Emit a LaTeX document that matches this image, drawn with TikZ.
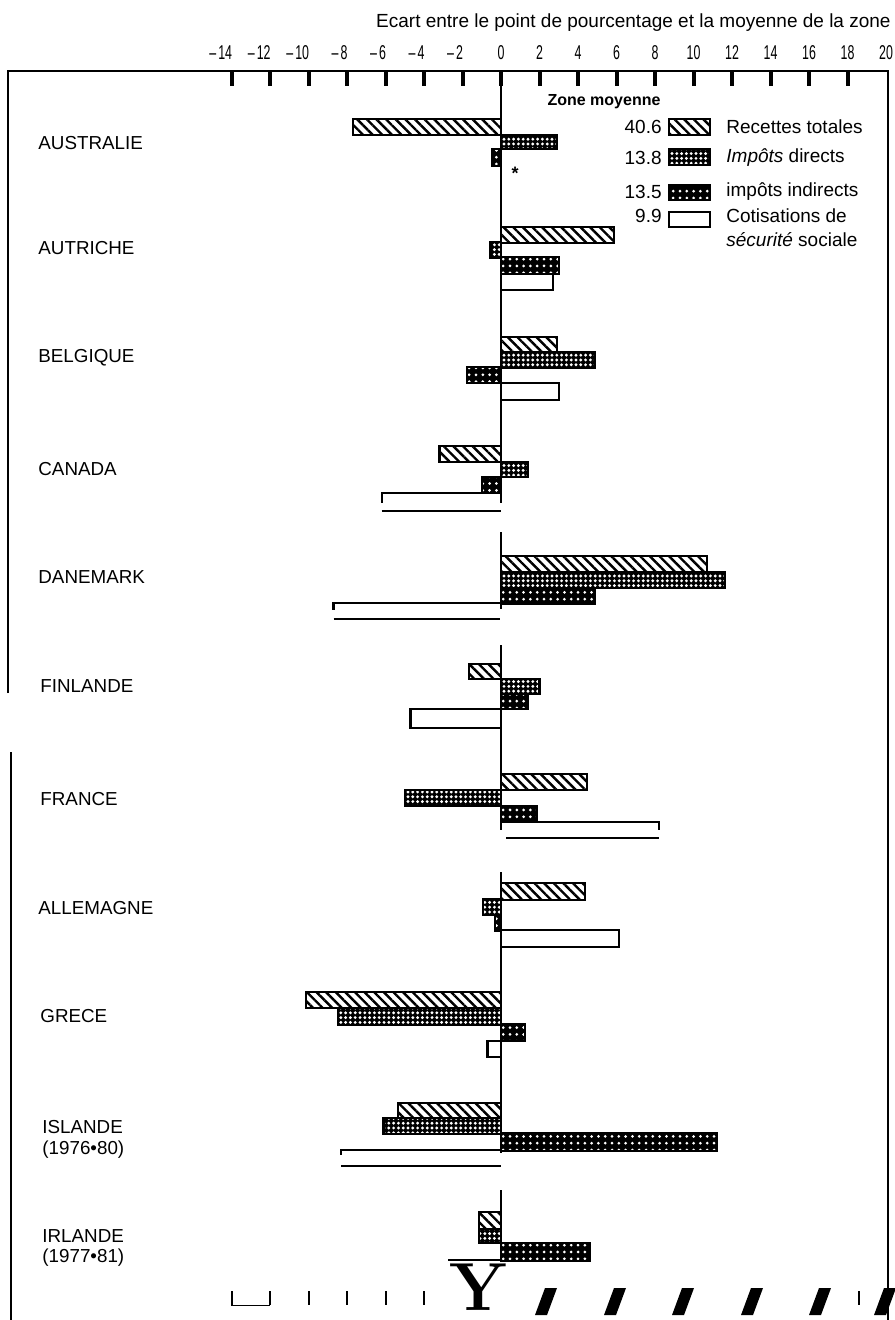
\documentclass[tikz,border=0pt]{standalone}
\usepackage{fontspec}
\newfontfamily\arialf{Liberation Sans}
\usepackage{tikz}
\usetikzlibrary{patterns.meta,positioning}
\tikzstyle{barbase}=[
	draw=black,
	line width=1.1pt
]
\tikzstyle{totbar}=[
	barbase,
	preaction={fill=white},
	preaction={pattern={Lines[angle=-45,distance=3.4pt,line width=1.2pt]}, pattern color=black}
]
\tikzstyle{dirbar}=[
	barbase,
	preaction={fill=black},
	preaction={pattern={Dots[distance=2.4pt,radius=0.8pt]}, pattern color=white}
]
\tikzstyle{indbar}=[
	barbase,
	preaction={fill=black},
	preaction={pattern={Dots[distance=3.4pt,radius=0.75pt]}, pattern color=white}
]
\tikzstyle{socbar}=[
	barbase,
	fill=white
]
\tikzstyle{openbar}=[
	draw=black,
	line width=1.1pt
]
\tikzstyle{zline}=[
	draw=black,
	line width=1pt
]
\tikzstyle{border}=[
	draw=black,
	line width=1.1pt
]
\tikzstyle{axtick}=[
	draw=black,
	line width=2pt
]
\tikzstyle{country}=[
	anchor=west,
	inner sep=0pt,
	font=\arialf\fontsize{9.4}{11}\selectfont
]
\tikzstyle{lgtxt}=[
	anchor=west,
	inner sep=0pt,
	font=\arialf\fontsize{9.5}{11}\selectfont
]
\tikzstyle{lgnum}=[
	lgtxt,
	anchor=east
]
\tikzstyle{axnum}=[
	inner sep=0pt,
	font=\arialf\fontsize{10}{11}\selectfont
]
\newcommand{\cnd}[1]{\scalebox{0.62}[1]{#1}}
\newcommand{\taxbar}[4]{\draw[#1] (501,#2) rectangle ({501+19.25*(#4)},#3);}
\begin{document}
\begin{tikzpicture}[x=0.5pt, y=-0.5pt]
\useasboundingbox (0,0) rectangle (894,1320);

\node[lgtxt, anchor=east] (title) at (891,23) {Ecart entre le point de pourcentage et la moyenne de la zone};

\foreach \v [count=\i] in {-14,-12,...,20} {
    \ifnum\v<0
        \pgfmathtruncatemacro{\a}{-\v}
        \node[axnum, anchor=east] (num\i) at ({502+19.25*\v},53) {\cnd{\textendash\,\a}};
    \else
        \node[axnum] (num\i) at ({501+19.25*\v},53) {\cnd{\v}};
    \fi
}

\draw[border] (8,693) -- (8,71) -- (888,71) -- (888,1320);
\draw[border] (11,752) -- (11,1320);

\foreach \v [evaluate=\v as \xx using (501+19.25*\v)] in {-14,-12,...,18} {
    \draw[axtick] (\xx,71) -- (\xx,86);
}

\foreach \a/\b in {71/503, 532/609, 645/830, 872/1153, 1190/1262} {
    \draw[zline] (501,\a) -- (501,\b);
}

\node[country] (aus) at (38,143) {AUSTRALIE};
\node[country] (aut) at (38,248) {AUTRICHE};
\node[country] (bel) at (38,358) {BELGIQUE};
\node[country] (can) at (38,469) {CANADA};
\node[country] (dan) at (38,577) {DANEMARK};
\node[country] (fin) at (40,686) {FINLANDE};
\node[country] (fra) at (40,799) {FRANCE};
\node[country] (all) at (38,908) {ALLEMAGNE};
\node[country] (gre) at (40,1016) {GRECE};
\node[country] (isl) at (42,1127) {ISLANDE};
\node[country, below=3pt of isl.south west, anchor=north west] (islyr) {(1976•80)};
\node[country] (irl) at (42,1236) {IRLANDE};
\node[country, below=3pt of irl.south west, anchor=north west] (irlyr) {(1977•81)};

\node[inner sep=0pt, font=\arialf\bfseries\fontsize{8}{9}\selectfont] (zone) at (604,102) {Zone moyenne};
\draw[totbar] (669,119) rectangle (710,135);
\draw[dirbar] (669,149) rectangle (710,165);
\draw[indbar] (669,185) rectangle (710,200);
\draw[socbar] (669,212) rectangle (710,227);
\node[lgnum] (m1) at (662,127) {40.6};
\node[lgnum] (m2) at (662,158) {13.8};
\node[lgnum] (m3) at (662,192) {13.5};
\node[lgnum] (m4) at (662,216) {9.9};
\node[lgtxt] (l1) at (726,127) {Recettes totales};
\node[lgtxt] (l2) at (726,158) {\textit{Impôts} directs};
\node[lgtxt] (l3) at (726,192) {impôts indirects};
\node[lgtxt] (l4) at (726,216) {Cotisations de};
\node[lgtxt] (l5) at (726,240) {\textit{sécurité} sociale};

\taxbar{totbar}{119}{135}{-7.7}
\taxbar{dirbar}{135}{149}{2.9}
\taxbar{indbar}{149}{166}{-0.45}
\node[inner sep=0pt, font=\arialf\bfseries\fontsize{9}{9}\selectfont] (star) at (515,173) {*};

\taxbar{totbar}{227}{243}{5.85}
\taxbar{dirbar}{242}{258}{-0.55}
\taxbar{indbar}{257}{274}{3.0}
\taxbar{socbar}{274}{290}{2.7}

\taxbar{totbar}{337}{352}{2.9}
\taxbar{dirbar}{352}{368}{4.9}
\taxbar{indbar}{367}{383}{-1.75}
\taxbar{socbar}{383}{400}{3.0}

\taxbar{totbar}{446}{462}{-3.2}
\taxbar{dirbar}{462}{477}{1.4}
\taxbar{indbar}{477}{493}{-1.0}
\draw[openbar] (501,493) -- ({501+19.25*(-6.2)},493) -- ++(0,10);
\draw[openbar] ({501+19.25*(-6.2)},511) -- (501,511);

\taxbar{totbar}{556}{572}{10.7}
\taxbar{dirbar}{572}{588}{11.65}
\taxbar{indbar}{588}{604}{4.9}
\draw[openbar] (501,603) -- ({501+19.25*(-8.7)},603) -- ++(0,7);
\draw[openbar] ({501+19.25*(-8.7)},619) -- (500,619);

\taxbar{totbar}{664}{679}{-1.65}
\taxbar{dirbar}{679}{694}{2.0}
\taxbar{indbar}{694}{709}{1.4}
\taxbar{socbar}{709}{728}{-4.7}

\taxbar{totbar}{774}{790}{4.45}
\taxbar{dirbar}{790}{806}{-5.0}
\taxbar{indbar}{806}{822}{1.85}
\draw[openbar] (501,822) -- ({501+19.25*8.2},822) -- ++(0,8);
\draw[openbar] (506,838) -- ({501+19.25*8.2},838);

\taxbar{totbar}{883}{900}{4.35}
\taxbar{dirbar}{899}{915}{-0.95}
\taxbar{indbar}{915}{931}{-0.3}
\taxbar{socbar}{930}{947}{6.15}

\taxbar{totbar}{992}{1008}{-10.15}
\taxbar{dirbar}{1008}{1025}{-8.45}
\taxbar{indbar}{1024}{1041}{1.25}
\taxbar{socbar}{1041}{1057}{-0.7}

\taxbar{totbar}{1103}{1118}{-5.35}
\taxbar{dirbar}{1118}{1134}{-6.1}
\taxbar{indbar}{1133}{1151}{11.2}
\draw[openbar] (501,1150) -- ({501+19.25*(-8.3)},1150) -- ++(0,5);
\draw[openbar] ({501+19.25*(-8.3)},1166) -- (501,1166);

\taxbar{totbar}{1212}{1229}{-1.15}
\taxbar{dirbar}{1229}{1243}{-1.15}
\taxbar{indbar}{1243}{1261}{4.6}
\draw[openbar] ({501+19.25*(-2.75)},1260) -- (501,1260);

\foreach \v [evaluate=\v as \xx using (501+19.25*\v)] in {-14,-12,...,-4} {
    \draw[line width=1pt] (\xx,1291) -- (\xx,1305);
}
\draw[line width=0.5pt] (231,1305) -- (270,1305);
\node[inner sep=0pt, anchor=base, font=\bfseries\fontsize{34}{34}\selectfont] (ymark) at (478,1310) {Y};
\foreach \c in {546,615,683,752,820,885} {
    \fill (\c-11,1315) -- (\c+1,1315) -- (\c+11,1288) -- (\c-1,1288) -- cycle;
}
\draw[line width=1pt] (859,1291) -- (859,1305);
\end{tikzpicture}
\end{document}
